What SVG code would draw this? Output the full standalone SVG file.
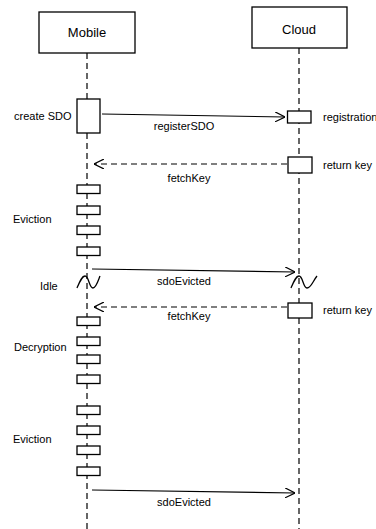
<svg xmlns="http://www.w3.org/2000/svg" width="376" height="529" viewBox="0 0 376 529">
<style>
.box{fill:#fff;stroke:#000;stroke-width:1.3}
.life{stroke:#000;stroke-width:1.2;stroke-dasharray:6,4;fill:none}
.msg{stroke:#000;stroke-width:1.2;fill:none}
.dmsg{stroke:#000;stroke-width:1.2;fill:none;stroke-dasharray:6,4}
.t{font-family:"Liberation Sans",Arial,sans-serif;font-size:11px;fill:#000}
.h{font-family:"Liberation Sans",Arial,sans-serif;font-size:13px;fill:#000}
</style>
<defs>
<marker id="open" viewBox="0 0 10 10" refX="10" refY="5" markerWidth="10" markerHeight="10" markerUnits="userSpaceOnUse" orient="auto">
<path d="M0,0 L10,5 L0,10" fill="none" stroke="#000" stroke-width="1.2"/>
</marker>
</defs>
<g id="lifelines">
<line class="life" x1="87" y1="53" x2="87" y2="529"/>
<line class="life" x1="299" y1="48" x2="299" y2="529"/>
</g>
<g id="mobile">
<rect class="box" x="39" y="12" width="96" height="41"/>
<text class="h" x="87" y="37" text-anchor="middle">Mobile</text>
</g>
<g id="cloud">
<rect class="box" x="252" y="7" width="95" height="41"/>
<text class="h" x="299" y="34" text-anchor="middle">Cloud</text>
</g>
<g id="mobile-activations">
<rect class="box" x="77" y="99" width="23" height="34"/>
<rect class="box" x="77" y="185" width="23" height="8.5"/>
<rect class="box" x="77" y="206" width="23" height="8.5"/>
<rect class="box" x="77" y="226" width="23" height="8.5"/>
<rect class="box" x="77" y="247" width="23" height="8.5"/>
<rect class="box" x="77" y="317" width="23" height="8.5"/>
<rect class="box" x="77" y="337" width="23" height="8.5"/>
<rect class="box" x="77" y="355" width="23" height="8.5"/>
<rect class="box" x="77" y="375" width="23" height="8.5"/>
<rect class="box" x="77" y="406" width="23" height="8.5"/>
<rect class="box" x="77" y="426" width="23" height="8.5"/>
<rect class="box" x="77" y="446" width="23" height="8.5"/>
<rect class="box" x="77" y="467" width="23" height="8.5"/>
</g>
<g id="cloud-activations">
<rect class="box" x="287.5" y="111" width="23.5" height="12"/>
<rect class="box" x="288" y="157" width="24" height="16"/>
<rect class="box" x="288" y="303" width="24" height="15"/>
</g>
<g id="idle">
<path d="M77,288 C80,281 82,276 85,276 C89,276 89,288 93,288 C96,288 98,281 100,276" fill="none" stroke="#000" stroke-width="1.3"/>
<path d="M291,288 C294,281 296,276 299,276 C303,276 303,288 307,288 C311,288 313,281 317,276" fill="none" stroke="#000" stroke-width="1.3"/>
</g>
<g id="connectors">
<line class="msg" x1="102" y1="114" x2="285" y2="117" marker-end="url(#open)"/>
<line class="dmsg" x1="287" y1="164" x2="94" y2="164" marker-end="url(#open)"/>
<line class="msg" x1="92" y1="269" x2="295" y2="272" marker-end="url(#open)"/>
<line class="dmsg" x1="287" y1="307" x2="94" y2="307" marker-end="url(#open)"/>
<line class="msg" x1="92" y1="490" x2="295" y2="493" marker-end="url(#open)"/>
</g>
<g id="labels">
<text class="t" x="14" y="120">create SDO</text>
<text class="t" x="184" y="130" text-anchor="middle">registerSDO</text>
<text class="t" x="323" y="121">registration</text>
<text class="t" x="189" y="182" text-anchor="middle">fetchKey</text>
<text class="t" x="323" y="169">return key</text>
<text class="t" x="13" y="223">Eviction</text>
<text class="t" x="184" y="285" text-anchor="middle">sdoEvicted</text>
<text class="t" x="40" y="290">Idle</text>
<text class="t" x="323" y="314">return key</text>
<text class="t" x="189" y="320" text-anchor="middle">fetchKey</text>
<text class="t" x="14" y="351">Decryption</text>
<text class="t" x="13" y="443">Eviction</text>
<text class="t" x="184" y="506" text-anchor="middle">sdoEvicted</text>
</g>
</svg>
